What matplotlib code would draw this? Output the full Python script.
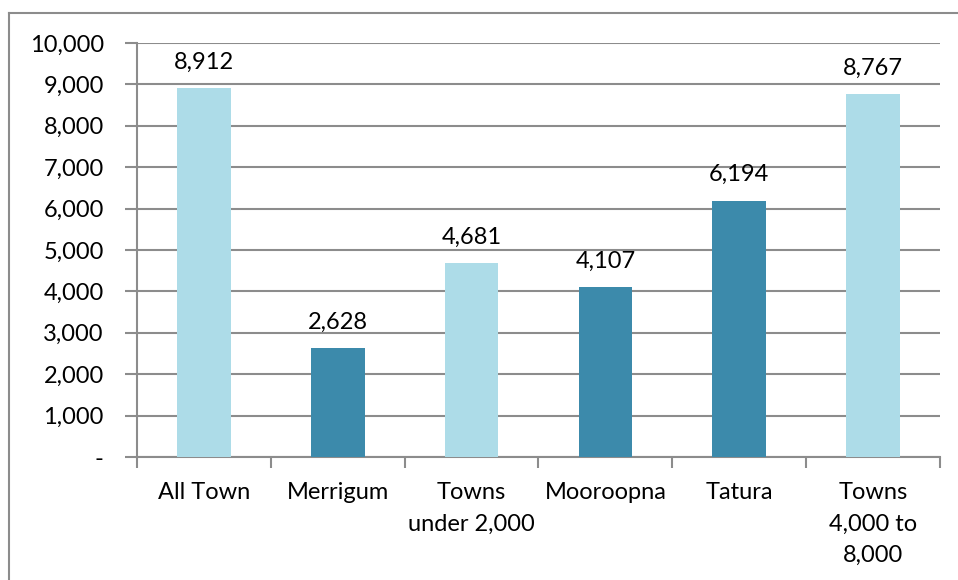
import matplotlib.pyplot as plt
from matplotlib.ticker import FuncFormatter
from matplotlib.lines import Line2D

categories = ['All Town', 'Merrigum', 'Towns\nunder 2,000', 'Mooroopna', 'Tatura', 'Towns\n4,000 to\n8,000']
values = [8912, 2628, 4681, 4107, 6194, 8767]
shades = ['light', 'dark', 'light', 'dark', 'dark', 'light']

colour_map = {'light': '#ADDCE8', 'dark': '#3C8AAB'}
plt.rcParams['font.family'] = ['Lato', 'DejaVu Sans']

fig = plt.figure(figsize=(9.58, 5.8), dpi=100)
ax = fig.add_axes([137/958, 1 - 457/580, (940-137)/958, (457-43)/580])

x = list(range(len(categories)))
ax.bar(x, values, width=0.4, color=[colour_map[s] for s in shades], zorder=3)
for xi, v in zip(x, values):
    ax.annotate(f'{v:,}', (xi, v), xytext=(0, 11), textcoords='offset points',
                ha='center', va='bottom', fontsize=17, color='black')

ax.set_xlim(-0.5, len(categories) - 0.5)
ax.set_ylim(0, 10000)
ax.set_yticks(range(0, 10001, 1000))
ax.yaxis.set_major_formatter(FuncFormatter(lambda v, p: '-' if v == 0 else f'{int(v):,}'))
ax.yaxis.grid(True, color='#8c8c8c', linewidth=1.5, zorder=0)
ax.set_xticks(x)
ax.set_xticklabels(categories, fontsize=17, linespacing=1.62)
ax.set_xticks([i - 0.5 for i in range(len(categories) + 1)], minor=True)
ax.tick_params(axis='x', which='major', length=0, pad=18)
ax.tick_params(axis='x', which='minor', length=8, width=1.5, color='#8c8c8c')
ax.tick_params(axis='y', length=9, width=1.5, color='#8c8c8c', labelsize=17, pad=15)
for side in ['top', 'right']:
    ax.spines[side].set_visible(False)
for side in ['left', 'bottom']:
    ax.spines[side].set_color('#8c8c8c')
    ax.spines[side].set_linewidth(1.5)

# outer chart border (clipped on right and bottom)
fig.add_artist(Line2D([9/958, 9/958], [0, 1 - 13/580], transform=fig.transFigure, color='#8c8c8c', linewidth=1.5))
fig.add_artist(Line2D([9/958, 1], [1 - 13/580, 1 - 13/580], transform=fig.transFigure, color='#8c8c8c', linewidth=1.5))

fig.savefig('out.png', dpi=100)
